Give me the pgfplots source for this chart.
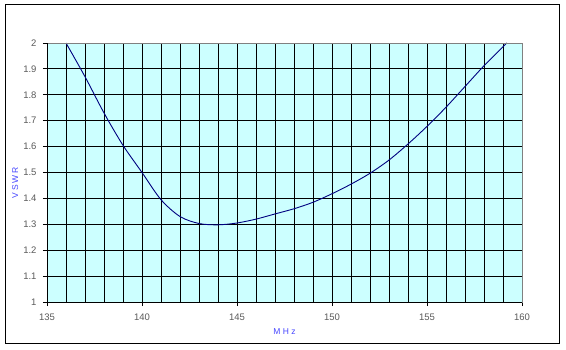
\documentclass[border=0pt]{standalone}
\usepackage{pgfplots}
\pgfplotsset{compat=1.18}
\usepackage{fontspec}
\setmainfont{Liberation Sans}
\definecolor{bgcyan}{RGB}{204,255,255}
\definecolor{curve}{RGB}{0,0,128}
\definecolor{lblblue}{RGB}{70,70,255}
\begin{document}
\begin{tikzpicture}[x=1pt,y=1pt]
\path (0,0) rectangle (566,349);
\draw[black, line width=1pt] (5,6) rectangle (559,344);
\begin{axis}[
  at={(47pt,47pt)}, anchor=south west,
  scale only axis, width=475pt, height=259pt,
  xmin=135, xmax=160, ymin=1, ymax=2,
  xtick={135,140,145,150,155,160},
  minor xtick={136,137,138,139,141,142,143,144,146,147,148,149,151,152,153,154,156,157,158,159},
  ytick={1,1.1,1.2,1.3,1.4,1.5,1.6,1.7,1.8,1.9,2},
  yticklabels={1,1.1,1.2,1.3,1.4,1.5,1.6,1.7,1.8,1.9,2},
  xmajorgrids, xminorgrids, ymajorgrids,
  grid style={black, line width=0.85pt},
  minor grid style={black, line width=0.85pt},
  axis background/.style={fill=bgcyan},
  axis line style={draw=gray, line width=0.9pt},
  tick align=outside, xtick pos=bottom, ytick pos=left,
  major tick length=4pt, minor tick length=0pt,
  tick style={black, line width=0.9pt},
  ticklabel style={font=\fontsize{9.5}{10}\selectfont, text=black!65},
  /pgf/number format/assume math mode=true,
  xticklabel style={yshift=-4pt},
  yticklabel style={xshift=-3pt},
  xlabel={M\hspace{2.5pt}H\hspace{2.5pt}z},
  ylabel={V\hspace{2pt}S\hspace{2pt}W\hspace{2pt}R},
  label style={font=\fontsize{8.5}{9}\selectfont, text=lblblue},
  xlabel style={at={(axis description cs:0.5,-0.116)}, anchor=center},
  ylabel style={at={(axis description cs:-0.067,0.46)}, anchor=center},
  clip=false,
]
\addplot[curve, line width=0.9pt, smooth, tension=0.5] coordinates {
(136,2.0) (137,1.87) (138,1.73) (139,1.605) (140,1.5) (141,1.395) (142,1.33)
(143,1.303) (144,1.298) (145,1.305) (146,1.32) (147,1.34) (148,1.36)
(149,1.385) (150,1.418) (151,1.455) (152,1.497) (153,1.548) (154,1.61)
(155,1.678) (156,1.752) (157,1.832) (158,1.912) (159.2,2.0)
};
\draw[gray, line width=0.9pt] (rel axis cs:0,1) -- (rel axis cs:1,1) -- (rel axis cs:1,0);
\draw[black, line width=0.9pt] (rel axis cs:0,1) -- (rel axis cs:0,0) -- (rel axis cs:1,0);
\end{axis}
\end{tikzpicture}
\end{document}
